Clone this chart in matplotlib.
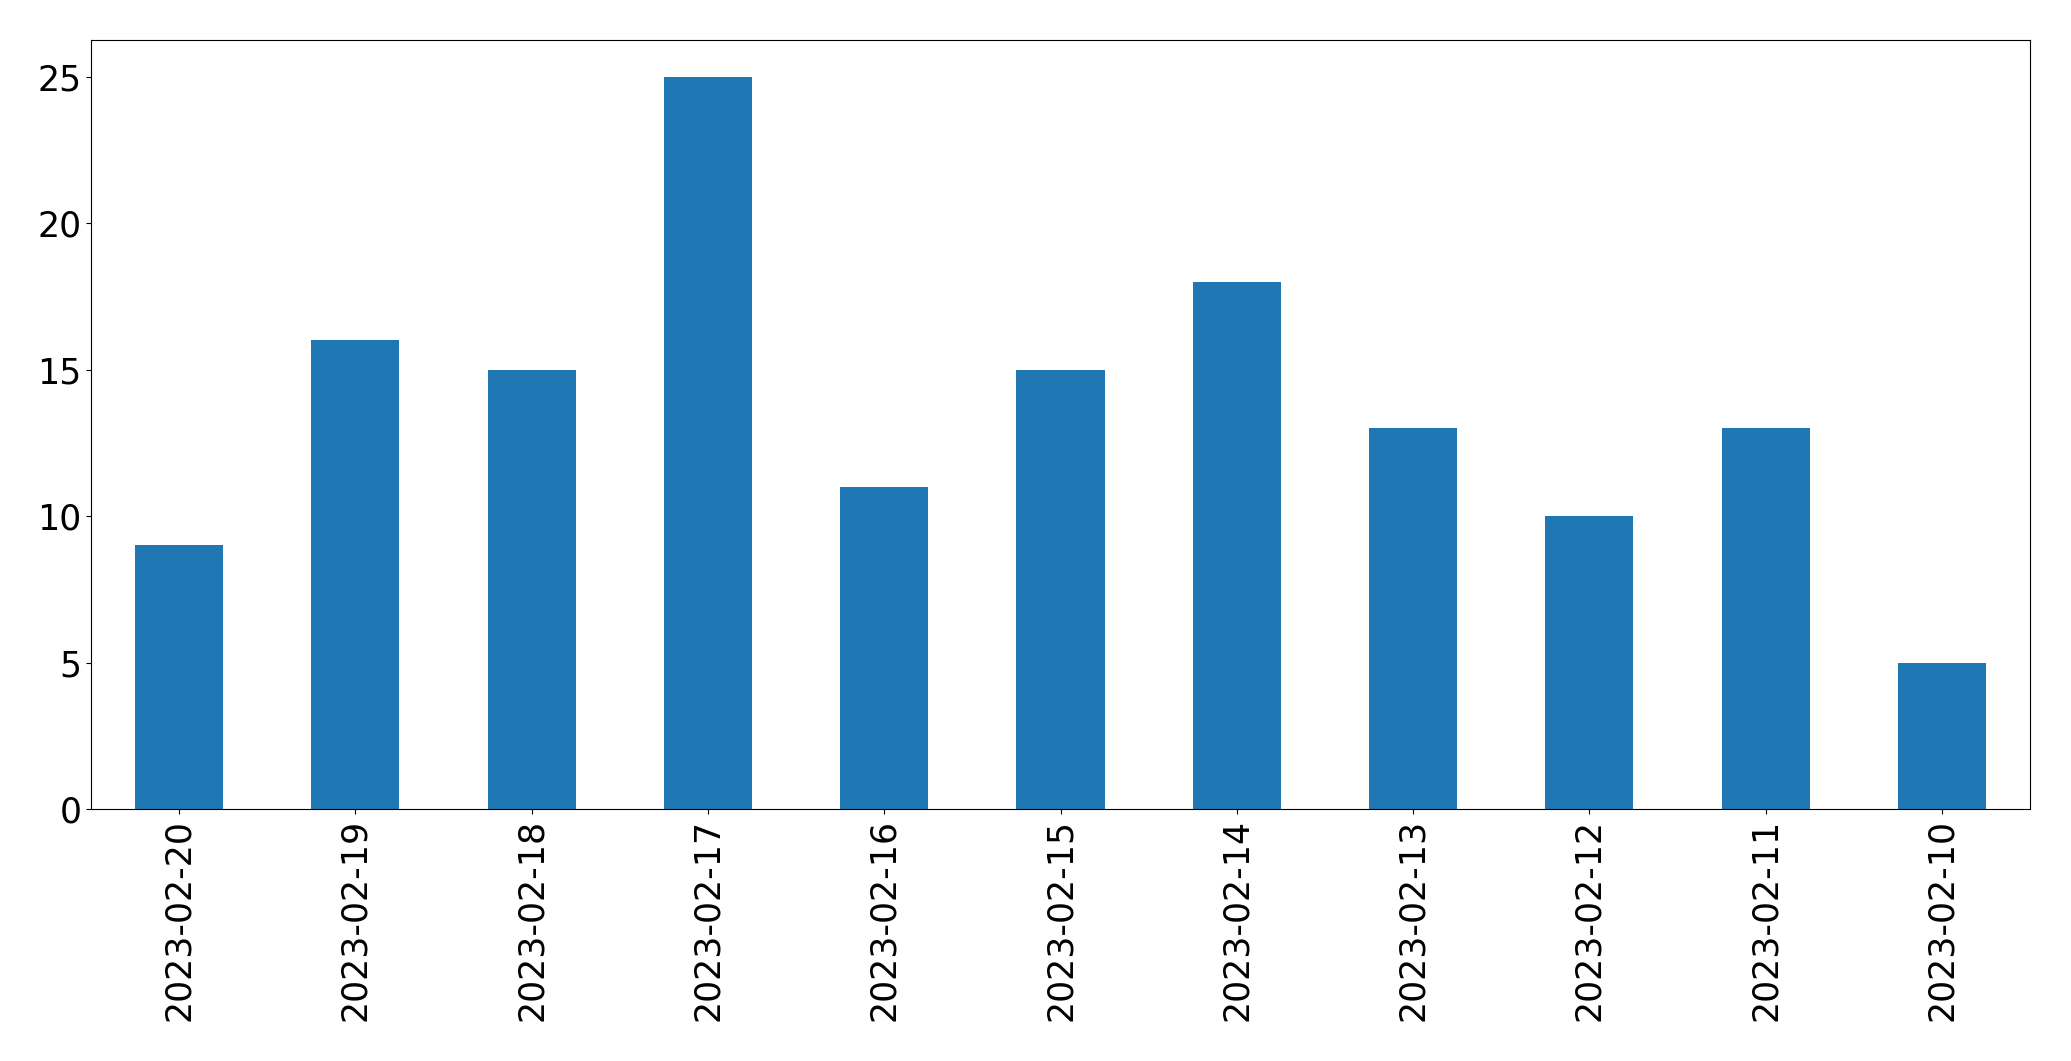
import matplotlib
matplotlib.use("Agg")
import matplotlib.pyplot as plt
import pandas as pd

dates = ["2023-02-20", "2023-02-19", "2023-02-18", "2023-02-17", "2023-02-16",
         "2023-02-15", "2023-02-14", "2023-02-13", "2023-02-12", "2023-02-11",
         "2023-02-10"]
counts = [9, 16, 15, 25, 11, 15, 18, 13, 10, 13, 5]

s = pd.Series(counts, index=dates)

fig, ax = plt.subplots(figsize=(20.71, 10.61), dpi=100)
s.plot(kind="bar", ax=ax, color="#1f77b4", fontsize=25)
ax.tick_params(axis="both", labelsize=25)
fig.subplots_adjust(left=91/2071, right=2030/2071, top=1-40/1061, bottom=1-809/1061)
fig.savefig("out.png", dpi=100)
